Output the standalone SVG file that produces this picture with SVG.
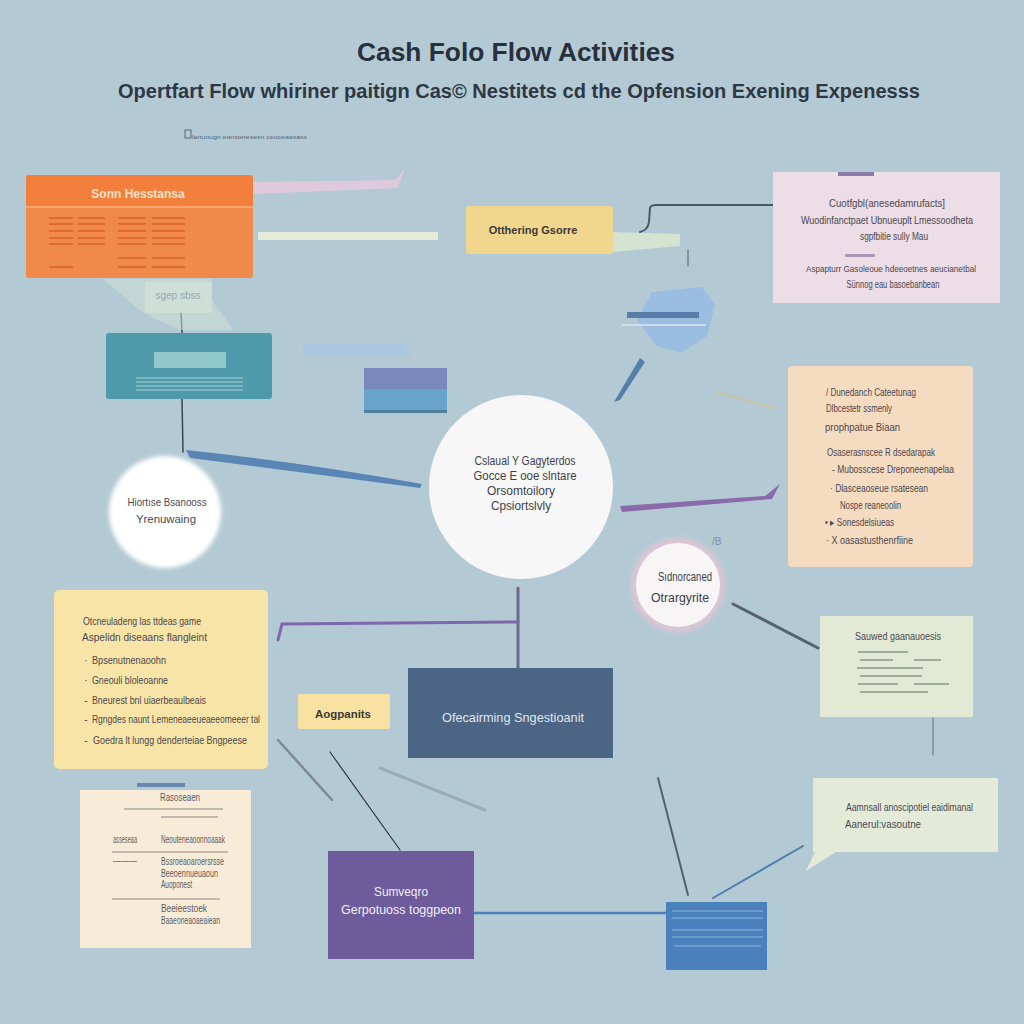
<svg xmlns="http://www.w3.org/2000/svg" width="1024" height="1024" viewBox="0 0 1024 1024">
<style>
.t{font-family:"Liberation Sans",Arial,sans-serif}
.tiny{font-family:"Liberation Sans",Arial,sans-serif;font-size:10px;fill:#5c5a60}
.sm{font-family:"Liberation Sans",Arial,sans-serif;font-size:11px;fill:#4a4850}
.xs{font-family:"Liberation Sans",Arial,sans-serif;font-size:9px;fill:#4a4850}
.mid{font-family:"Liberation Sans",Arial,sans-serif;font-size:12px;fill:#3d3f48}
.ln{fill:none;stroke-linecap:round}
</style>
<defs>
<filter id="soft" x="-20%" y="-20%" width="140%" height="140%"><feGaussianBlur stdDeviation="2"/></filter>
</defs>
<rect width="1024" height="1024" fill="#b3cad4"/>

<g id="title">
<text class="t" x="516" y="61" text-anchor="middle" font-size="26" font-weight="bold" fill="#27303c" textLength="318" lengthAdjust="spacingAndGlyphs">Cash Folo Flow Activities</text>
<text class="t" x="519" y="98" text-anchor="middle" font-size="20" font-weight="bold" fill="#2e3744" textLength="802" lengthAdjust="spacingAndGlyphs">Opertfart Flow whiriner paitign Cas© Nestitets cd the Opfension Exening Expenesss</text>
<rect x="185" y="130" width="6" height="8" fill="none" stroke="#56667a" stroke-width="1"/>
<text class="t" x="192" y="139" font-size="5" fill="#56667a" textLength="115" lengthAdjust="spacingAndGlyphs">lanuougn eonsteresesn ceoceaasass</text>
</g>

<g id="connectors">
<path d="M253,182 L395,180 L405,168 L398,188 L253,194 Z" fill="#e2c9de" opacity="0.9"/>
<path d="M258,232 L438,232 L438,240 L258,240 Z" fill="#e4ecd8"/>
<path d="M613,232 L680,234 L680,246 L613,252 Z" fill="#dde8d2" opacity="0.8"/>
<path class="ln" d="M640,232 Q648,230 649,222 L650,208 Q651,205 656,205 L773,205" stroke="#46586a" stroke-width="2"/>
<path class="ln" d="M688,250 L688,266" stroke="#6f8090" stroke-width="1.5"/>
<path class="ln" d="M181,313 L182,333" stroke="#3a4550" stroke-width="1.5"/>
<path class="ln" d="M182,399 L183,452" stroke="#3a4550" stroke-width="1.5"/>
<path d="M186,450 Q300,462 422,484 L420,488 Q300,472 190,458 Z" fill="#5a86b6"/>
<path d="M303,344 L405,344 L410,356 L305,356 Z" fill="#a9c6e2" opacity="0.8"/>
<path d="M620,506 L765,496 L780,484 L772,499 L622,512 Z" fill="#8a6aaa"/>
<path d="M640,358 L645,362 L620,400 L614,402 Z" fill="#557fa8"/>
<path class="ln" d="M716,392 L774,408" stroke="#c9c49a" stroke-width="2"/>
<path class="ln" d="M518,588 L518,668" stroke="#6e6890" stroke-width="3"/>
<path class="ln" d="M518,622 L282,624 L278,640" stroke="#7c68aa" stroke-width="3"/>
<path class="ln" d="M330,752 L400,850" stroke="#2c3440" stroke-width="1.2"/>
<path class="ln" d="M278,740 L332,800" stroke="#7a8a95" stroke-width="2.5"/>
<path class="ln" d="M380,768 L485,810" stroke="#9aacb6" stroke-width="3"/>
<path class="ln" d="M474,913 L666,913" stroke="#4a7fba" stroke-width="2.5"/>
<path class="ln" d="M658,778 L688,895" stroke="#55606a" stroke-width="2"/>
<path class="ln" d="M713,898 L803,846" stroke="#4d7ca8" stroke-width="2"/>
<path class="ln" d="M733,604 L818,648" stroke="#56626e" stroke-width="3"/>
<path class="ln" d="M933,718 L933,755" stroke="#6a7a88" stroke-width="1.2"/>
</g>

<g id="pale-label">
<path d="M103,279 L212,279 L212,300 L233,330 L180,330 L143,313 Z" fill="#cfe0d4" opacity="0.55"/>
<rect x="145" y="282" width="67" height="31" fill="#d6e5d8" opacity="0.6"/>
<text class="t" x="178" y="299" text-anchor="middle" font-size="10" fill="#93a8b6">sgep   sbss</text>
</g>

<g id="orange-box">
<rect x="26" y="175" width="227" height="103" rx="3" fill="#f08a4a"/>
<rect x="26" y="175" width="227" height="32" rx="3" fill="#f2803c"/>
<line x1="26" y1="207" x2="253" y2="207" stroke="#f7b17e" stroke-width="1.5"/>
<text class="t" x="138" y="198" text-anchor="middle" font-size="12" font-weight="bold" fill="#fbe0c8">Sonn Hesstansa</text>
<g stroke="#d8622a" stroke-width="1.6">
<path d="M49,218h24M78,218h27M118,218h28M152,218h33M49,224h24M78,224h27M118,224h28M152,224h33M49,231h24M78,231h27M118,231h28M152,231h33M49,238h24M78,238h27M118,238h28M152,238h33M49,244h24M78,244h27M118,244h28M152,244h33M118,258h28M152,258h33M49,267h24M118,267h28M152,267h33"/>
</g>
</g>

<g id="teal-box">
<rect x="106" y="333" width="166" height="66" rx="3" fill="#4f9aaa"/>
<rect x="154" y="352" width="72" height="16" fill="#92c8c9"/>
<g stroke="#a6d2d4" stroke-width="1.2"><path d="M136,378h107M136,382h107M136,386h107M136,390h107"/></g>
</g>

<g id="stack-box">
<rect x="364" y="368" width="83" height="21" fill="#7a88bd"/>
<rect x="364" y="389" width="83" height="24" fill="#67a3cb"/>
<rect x="364" y="410" width="83" height="3" fill="#4e7f9e"/>
</g>

<g id="yellow-label">
<rect x="466" y="206" width="147" height="48" rx="3" fill="#f1d78e"/>
<text class="t" x="533" y="234" text-anchor="middle" font-size="11" font-weight="bold" fill="#3c3a30">Otthering Gsorre</text>
</g>

<g id="pink-box">
<rect x="773" y="172" width="227" height="131" fill="#ecdde6"/>
<rect x="838" y="172" width="36" height="4" fill="#8c7aa8"/>
<text class="sm" x="887" y="207" text-anchor="middle" textLength="116" lengthAdjust="spacingAndGlyphs">Cuotfgbl(anesedamrufacts]</text>
<text class="sm" x="887" y="224" text-anchor="middle" textLength="172" lengthAdjust="spacingAndGlyphs">Wuodinfanctpaet Ubnueuplt Lmessoodheta</text>
<text class="sm" x="894" y="240" text-anchor="middle" textLength="68" lengthAdjust="spacingAndGlyphs">sgpfbitie sully Mau</text>
<rect x="845" y="254" width="30" height="3" rx="1" fill="#a895b8"/>
<text class="xs" x="891" y="272" text-anchor="middle" textLength="170" lengthAdjust="spacingAndGlyphs">Aspapturr Gasoleoue hdeeoetnes aeucianetbal</text>
<text class="sm" x="893" y="288" text-anchor="middle" textLength="93" lengthAdjust="spacingAndGlyphs">Sünnog eau basoebanbean</text>
</g>

<g id="hexagon">
<polygon points="652,292 702,287 715,305 707,336 681,353 656,346 637,320" fill="#9bbde1"/>
<rect x="627" y="312" width="72" height="6" fill="#5a7ca8"/>
<line x1="622" y1="325" x2="706" y2="325" stroke="#dbe6f2" stroke-width="1.5"/>
</g>

<g id="center-circle">
<circle cx="521" cy="487" r="92" fill="#f7f7f7"/>
<text class="mid" x="525" y="465" text-anchor="middle" textLength="101" lengthAdjust="spacingAndGlyphs">Cslaual Y Gagyterdos</text>
<text class="mid" x="525" y="480" text-anchor="middle" textLength="103" lengthAdjust="spacingAndGlyphs">Gocce E ooe slntare</text>
<text class="mid" x="521" y="495" text-anchor="middle" textLength="68" lengthAdjust="spacingAndGlyphs">Orsomtoilory</text>
<text class="mid" x="521" y="510" text-anchor="middle" textLength="60" lengthAdjust="spacingAndGlyphs">Cpsiortslvly</text>
</g>

<g id="left-circle">
<circle cx="165" cy="512" r="56" fill="#ffffff" filter="url(#soft)"/>
<text class="sm" x="167" y="506" text-anchor="middle" textLength="79" lengthAdjust="spacingAndGlyphs">Hiortıse Bsanooss</text>
<text class="sm" x="166" y="523" text-anchor="middle" textLength="60" lengthAdjust="spacingAndGlyphs">Yrenuwaing</text>
</g>

<g id="peach-box">
<rect x="788" y="366" width="185" height="201" rx="4" fill="#f5dbbf"/>
<text class="sm" x="826" y="396" fill="#a49c98" textLength="90" lengthAdjust="spacingAndGlyphs">/ Dunedanch Cateetunag</text>
<text class="sm" x="826" y="412" textLength="66" lengthAdjust="spacingAndGlyphs">Dlbcestetr ssmenly</text>
<text class="sm" x="825" y="431" textLength="75" lengthAdjust="spacingAndGlyphs">prophpatue Biaan</text>
<text class="sm" x="827" y="456" textLength="108" lengthAdjust="spacingAndGlyphs">Osaserasnscee R dsedarapak</text>
<text class="sm" x="832" y="473" textLength="122" lengthAdjust="spacingAndGlyphs">- Mubosscese Dreponeenapelaa</text>
<text class="sm" x="830" y="492" textLength="98" lengthAdjust="spacingAndGlyphs">· Dlasceaoseue rsatesean</text>
<text class="sm" x="840" y="509" textLength="61" lengthAdjust="spacingAndGlyphs">Nospe reaneoolin</text>
<text class="sm" x="825" y="526" textLength="69" lengthAdjust="spacingAndGlyphs">• ▸ Sonesdelsiueas</text>
<text class="sm" x="826" y="544" textLength="87" lengthAdjust="spacingAndGlyphs">· X oasastusthenrfiine</text>
</g>

<g id="small-circle">
<circle cx="678" cy="585" r="47" fill="#dcc6d4" filter="url(#soft)"/>
<circle cx="678" cy="585" r="42" fill="#f7f5f6"/>
<text class="mid" x="685" y="581" text-anchor="middle" textLength="54" lengthAdjust="spacingAndGlyphs">Sıdnorcaned</text>
<text class="mid" x="680" y="602" text-anchor="middle" textLength="58" lengthAdjust="spacingAndGlyphs">Otrargyrite</text>
<text class="t" x="712" y="545" font-size="10" fill="#7a8ea0">/B</text>
</g>

<g id="left-yellow-box">
<rect x="54" y="590" width="214" height="179" rx="5" fill="#f8e4a6"/>
<text class="sm" x="83" y="625" textLength="118" lengthAdjust="spacingAndGlyphs">Otcneuladeng las ttdeas  game</text>
<text class="sm" x="82" y="641" textLength="125" lengthAdjust="spacingAndGlyphs">Aspelidn diseaans  flangleint</text>
<text class="sm" x="84" y="664">·</text><text class="sm" x="92" y="664" textLength="74" lengthAdjust="spacingAndGlyphs">Bpsenutnenaoohn</text>
<text class="sm" x="84" y="684">·</text><text class="sm" x="92" y="684" textLength="76" lengthAdjust="spacingAndGlyphs">Gneouli bloleoanne</text>
<text class="sm" x="84" y="704">-</text><text class="sm" x="92" y="704" textLength="114" lengthAdjust="spacingAndGlyphs">Bneurest bnl uiaerbeaulbeais</text>
<text class="sm" x="84" y="723">-</text><text class="sm" x="92" y="723" textLength="168" lengthAdjust="spacingAndGlyphs">Rgngdes naunt Lemeneaeeueaeeomeeer tal</text>
<text class="sm" x="84" y="744">-</text><text class="sm" x="93" y="744" textLength="154" lengthAdjust="spacingAndGlyphs">Goedra lt lungg denderteiae Bngpeese</text>
</g>

<g id="small-yellow-label">
<rect x="298" y="694" width="92" height="35" rx="2" fill="#f7e2a2"/>
<text class="t" x="343" y="718" text-anchor="middle" font-size="11" font-weight="bold" fill="#3b3a33" textLength="56" lengthAdjust="spacingAndGlyphs">Aogpanits</text>
</g>

<g id="slate-box">
<rect x="408" y="668" width="205" height="90" fill="#4c6585"/>
<text class="t" x="513" y="722" text-anchor="middle" font-size="13" fill="#dfe6ef" textLength="142" lengthAdjust="spacingAndGlyphs">Ofecairming Sngestioanit</text>
</g>

<g id="green-box">
<rect x="820" y="616" width="153" height="101" fill="#e2ead6"/>
<text class="sm" x="898" y="640" text-anchor="middle" textLength="86" lengthAdjust="spacingAndGlyphs">Sauwed gaanauoesis</text>
<g stroke="#5e6e66" stroke-width="1"><path d="M858,652h50M860,660h33M914,660h27M857,668h66M860,676h62M858,684h40M914,684h35M860,692h68"/></g>
</g>

<g id="speech-bubble">
<path d="M813,778 L998,778 L998,852 L836,852 L806,871 L815,852 L813,852 Z" fill="#e3ebd8"/>
<text class="sm" x="846" y="811" textLength="127" lengthAdjust="spacingAndGlyphs">Aamnsall anoscipotiel eaidimanal</text>
<text class="sm" x="845" y="828" textLength="76" lengthAdjust="spacingAndGlyphs">Aanerul:vasoutne</text>
</g>

<g id="cream-doc">
<rect x="137" y="783" width="48" height="4" fill="#6a88ad"/>
<rect x="80" y="790" width="171" height="158" fill="#f8ecd8"/>
<text class="tiny" x="160" y="801" textLength="40" lengthAdjust="spacingAndGlyphs">Rasoseaen</text>
<g stroke="#8a8480" stroke-width="1"><path d="M124,809h99M161,817h57M112,852h116M112,899h108"/></g>
<text class="tiny" x="113" y="843" textLength="24" lengthAdjust="spacingAndGlyphs">asseseaa</text>
<text class="tiny" x="161" y="843" textLength="64" lengthAdjust="spacingAndGlyphs">Neouteneaoonnoaaak</text>
<text class="tiny" x="113" y="864" textLength="24" lengthAdjust="spacingAndGlyphs">---------</text>
<text class="tiny" x="161" y="865" textLength="63" lengthAdjust="spacingAndGlyphs">Bssroeaoaroersrsse</text>
<text class="tiny" x="161" y="877" textLength="57" lengthAdjust="spacingAndGlyphs">Beeoennueuaoun</text>
<text class="tiny" x="161" y="888" textLength="31" lengthAdjust="spacingAndGlyphs">Auoponest</text>
<text class="tiny" x="161" y="912" textLength="46" lengthAdjust="spacingAndGlyphs">Beeieestoek</text>
<text class="tiny" x="161" y="924" textLength="59" lengthAdjust="spacingAndGlyphs">Baaeoneaoaeaiean</text>
</g>

<g id="purple-box">
<rect x="328" y="851" width="146" height="108" fill="#6d5b9c"/>
<text class="t" x="401" y="896" text-anchor="middle" font-size="13" fill="#f1eef8" textLength="54" lengthAdjust="spacingAndGlyphs">Sumveqro</text>
<text class="t" x="401" y="914" text-anchor="middle" font-size="13" fill="#f1eef8" textLength="120" lengthAdjust="spacingAndGlyphs">Gerpotuoss toggpeon</text>
</g>

<g id="blue-box">
<rect x="666" y="902" width="101" height="68" fill="#4a80bb"/>
<g stroke="#8fb4dc" stroke-width="1"><path d="M672,911h91M672,918h91M672,930h91M672,937h91M674,946h87"/></g>
</g>
</svg>
